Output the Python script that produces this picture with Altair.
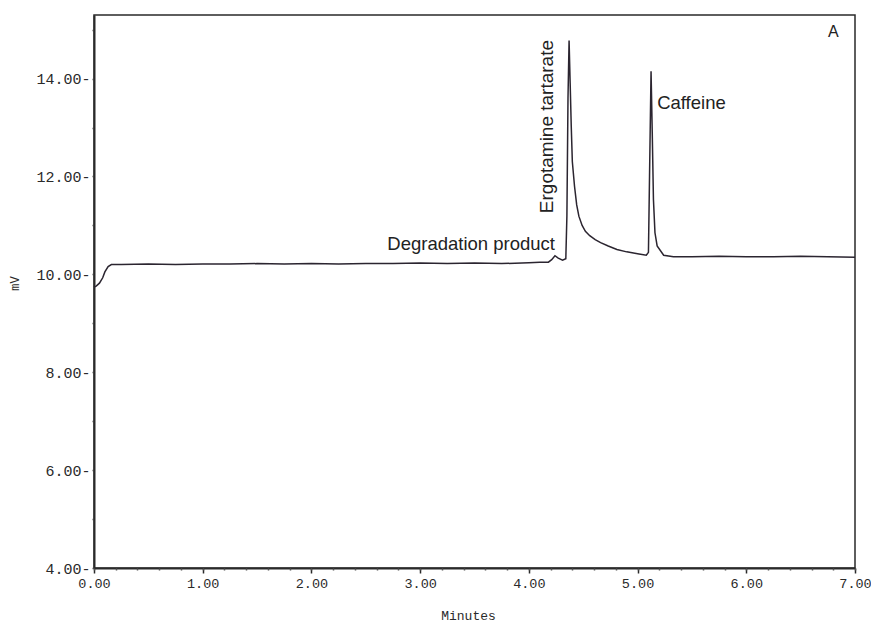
import altair as alt
import pandas as pd

# Chromatogram trace (minutes, mV)
time_min = [0.00, 0.02, 0.05, 0.08, 0.10, 0.13, 0.16, 0.25, 0.50, 0.75, 1.00, 1.25, 1.50,
            1.75, 2.00, 2.25, 2.50, 2.75, 3.00, 3.25, 3.50, 3.75, 4.00, 4.10, 4.18, 4.21,
            4.24, 4.27, 4.31, 4.34, 4.35, 4.36, 4.37, 4.38, 4.39, 4.40, 4.42, 4.44, 4.46,
            4.49, 4.52, 4.56, 4.61, 4.66, 4.73, 4.81, 4.90, 5.00, 5.08, 5.10, 5.11, 5.124,
            5.135, 5.146, 5.16, 5.18, 5.24, 5.33, 5.50, 5.75, 6.00, 6.25, 6.50, 6.75, 7.00]
signal_mv = [9.74, 9.76, 9.82, 9.93, 10.05, 10.16, 10.20, 10.20, 10.21, 10.20, 10.21, 10.21, 10.22,
             10.21, 10.22, 10.21, 10.22, 10.22, 10.23, 10.22, 10.23, 10.22, 10.24, 10.25, 10.25, 10.30,
             10.38, 10.33, 10.29, 10.32, 11.20, 13.60, 14.78, 13.90, 13.02, 12.30, 11.80, 11.42, 11.19,
             11.00, 10.88, 10.79, 10.71, 10.65, 10.58, 10.51, 10.46, 10.42, 10.39, 10.45, 12.00, 14.15,
             12.90, 11.53, 10.85, 10.58, 10.39, 10.36, 10.36, 10.37, 10.36, 10.36, 10.37, 10.36, 10.35]

# Annotations
ann_degr = ["Degradation product"]
ann_degr_t = [4.24]
ann_degr_v = [10.63]
ann_ergo = ["Ergotamine tartarate"]
ann_ergo_t = [4.17]
ann_ergo_v = [13.02]
ann_caff = ["Caffeine"]
ann_caff_t = [5.18]
ann_caff_v = [13.51]
ann_panel = ["A"]
ann_panel_t = [6.80]
ann_panel_v = [14.96]

x_major = [0, 1, 2, 3, 4, 5, 6, 7]
x_minor = [round(i * 0.2, 1) for i in range(36)]
y_ticks = [4 + 0.5 * i for i in range(23)]

df = pd.DataFrame({"t": time_min, "mV": signal_mv})

x_scale = alt.Scale(domain=[0, 7], nice=False, zero=False)
y_scale = alt.Scale(domain=[4, 15.3], nice=False, zero=False)

MONO = "Liberation Mono"
SANS = "Liberation Sans"
INK = "#2a2a2a"

x_axis = alt.Axis(
    title="Minutes",
    values=x_major,
    format=".2f",
    tickSize=5,
    tickWidth=1.5,
    tickColor=INK,
    labelPadding=3,
    labelFont=MONO,
    labelFontSize=13.5,
    labelColor=INK,
    labelFlush=False,
    labelOverlap=False,
    domainColor=INK,
    domainWidth=2,
    grid=False,
    titleFont=MONO,
    titleFontSize=13,
    titleFontWeight="normal",
    titleColor=INK,
    titleX=374,
    titleY=47,
    titleAnchor="middle",
    titleAlign="center",
    titleBaseline="middle",
    orient="bottom",
)

x_minor_axis = alt.Axis(
    title=None,
    values=x_minor,
    labels=False,
    domain=False,
    grid=False,
    tickSize=2,
    tickWidth=1.5,
    tickColor="#555555",
    orient="bottom",
)

y_axis = alt.Axis(
    title="mV",
    values=y_ticks,
    labelExpr="datum.value % 2 == 0 ? format(datum.value, '.2f') + '-' : ''",
    tickSize=2,
    tickWidth=1.5,
    tickColor="#555555",
    labelPadding=2,
    labelFont=MONO,
    labelFontSize=15,
    labelColor=INK,
    labelOverlap=False,
    labelBaseline="middle",
    domainColor=INK,
    domainWidth=2,
    grid=False,
    titleFont=MONO,
    titleFontSize=12,
    titleFontWeight="normal",
    titleColor=INK,
    titleX=-80,
    titleY=268,
    titleAngle=270,
    titleAlign="center",
    titleBaseline="middle",
    orient="left",
)

line = alt.Chart(df).mark_line(color="#2b2530", strokeWidth=1.5).encode(
    x=alt.X("t:Q", scale=x_scale, axis=x_axis),
    y=alt.Y("mV:Q", scale=y_scale, axis=y_axis),
)

minor = alt.Chart(df).mark_point(opacity=0, size=1).encode(
    x=alt.X("t:Q", scale=x_scale, axis=x_minor_axis),
    y=alt.Y("mV:Q", scale=y_scale),
)


def text_layer(labels, ts, vs, **kw):
    d = pd.DataFrame({"label": labels, "t": ts, "v": vs})
    return alt.Chart(d).mark_text(font=SANS, color="#222222", **kw).encode(
        x=alt.X("t:Q", scale=x_scale, axis=None),
        y=alt.Y("v:Q", scale=y_scale),
        text="label:N",
    )


t_degr = text_layer(ann_degr, ann_degr_t, ann_degr_v, align="right", baseline="middle", fontSize=18.5)
t_ergo = text_layer(ann_ergo, ann_ergo_t, ann_ergo_v, align="center", baseline="middle", angle=270, fontSize=19)
t_caff = text_layer(ann_caff, ann_caff_t, ann_caff_v, align="left", baseline="middle", fontSize=18.5)
t_panel = text_layer(ann_panel, ann_panel_t, ann_panel_v, align="center", baseline="middle", fontSize=16)

chart = (
    alt.layer(line, minor, t_degr, t_ergo, t_caff, t_panel)
    .resolve_axis(x="independent")
    .properties(
        width=761,
        height=553,
        autosize=alt.AutoSizeParams(type="none"),
        padding={"left": 86, "top": 7, "right": 16, "bottom": 55},
        background="white",
    )
    .configure_view(stroke="#2a2a2a", strokeWidth=1.5)
)

chart.save("out.html", embed_options={"renderer": "svg", "actions": False})
